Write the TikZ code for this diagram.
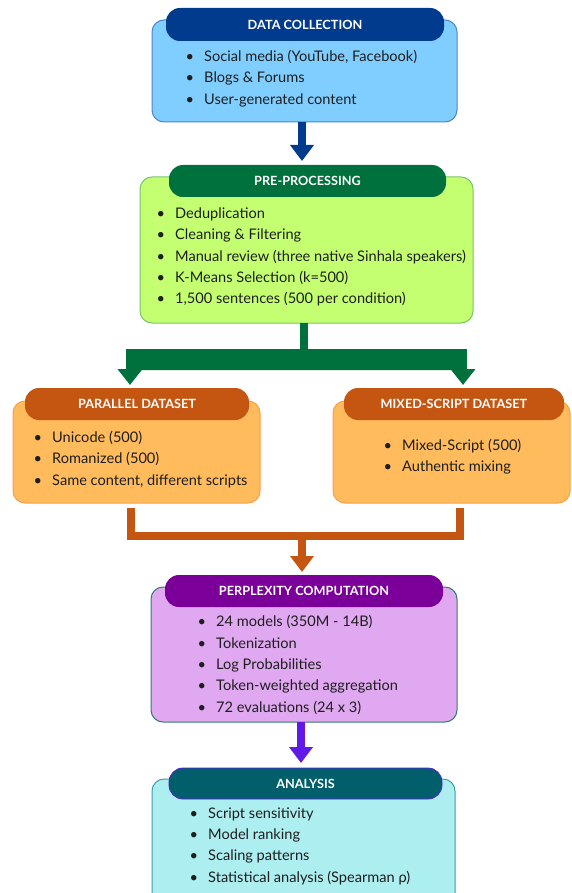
\documentclass[tikz,border=0pt]{standalone}
\usepackage{fontspec}
\setmainfont{Lato}
\usetikzlibrary{arrows.meta}
\definecolor{textc}{HTML}{1E1E1E}
\definecolor{bAfill}{HTML}{80CEFF}
\definecolor{bAdraw}{HTML}{4A86C8}
\definecolor{bAhead}{HTML}{003B8E}
\definecolor{bBfill}{HTML}{C4FF72}
\definecolor{bBdraw}{HTML}{78C46A}
\definecolor{bBhead}{HTML}{00703C}
\definecolor{bCfill}{HTML}{FFBB5C}
\definecolor{bCdraw}{HTML}{F9A046}
\definecolor{bChead}{HTML}{C45612}
\definecolor{bDfill}{HTML}{E0A8F0}
\definecolor{bDdraw}{HTML}{2E7D6B}
\definecolor{bDhead}{HTML}{7A0099}
\definecolor{arrP}{HTML}{6019E8}
\definecolor{bEfill}{HTML}{ADEEF0}
\definecolor{bEdraw}{HTML}{3AA0AA}
\definecolor{bEhead}{HTML}{005F6B}
\newcommand\bitem[1]{\llap{\textbullet\hspace{10pt}}#1}
\tikzset{
  box/.style={draw, line width=1pt, rounded corners=12pt, inner sep=0pt},
  head/.style={rounded corners=14pt, inner sep=0pt, text=white,
    font=\fontsize{12.7}{14}\selectfont\bfseries},
  items/.style={anchor=west, align=left, inner sep=0pt, text=textc,
    font=\fontsize{14.6}{21.3}\selectfont},
  conn/.style={line width=8pt, line join=miter, line cap=butt},
  tip/.style={-{Triangle[width=23pt,length=16pt]}},
  tiptwo/.style={{Triangle[width=24pt,length=16pt]}-{Triangle[width=24pt,length=16pt]}},
}
\begin{document}
\begin{tikzpicture}[x=1pt,y=-1pt]
\useasboundingbox (0,0) rectangle (571,893);
\clip (0,0) rectangle (571,893);
% --- Data collection
\node[box, fill=bAfill, draw=bAdraw, minimum width=305pt, minimum height=102pt] (b1) at (304.5,71) {};
\node[head, fill=bAhead, minimum width=278pt, minimum height=33pt] (h1) at (305,24.5) {DATA COLLECTION};
\node[items] (t1) at (204,78.5) {\bitem{Social media (YouTube, Facebook)}\\ \bitem{Blogs \& Forums}\\ \bitem{User-generated content}};
% --- Pre-processing
\node[box, fill=bBfill, draw=bBdraw, minimum width=333pt, minimum height=146pt] (b2) at (306.5,250) {};
\node[head, fill=bBhead, minimum width=277pt, minimum height=32pt] (h2) at (307.5,181) {PRE-PROCESSING};
\node[items] (t2) at (175,257) {\bitem{Deduplication}\\ \bitem{Cleaning \& Filtering}\\ \bitem{Manual review (three native Sinhala speakers)}\\ \bitem{K-Means Selection (k=500)}\\ \bitem{1,500 sentences (500 per condition)}};
% --- Parallel
\node[box, fill=bCfill, draw=bCdraw, minimum width=247pt, minimum height=102pt] (b3) at (136.5,452) {};
\node[head, fill=bChead, minimum width=224pt, minimum height=32pt] (h3) at (137,404) {PARALLEL DATASET};
\node[items] (t3) at (52,459.5) {\bitem{Unicode (500)}\\ \bitem{Romanized (500)}\\ \bitem{Same content, different scripts}};
% --- Mixed
\node[box, fill=bCfill, draw=bCdraw, minimum width=237pt, minimum height=102pt] (b4) at (451.5,452) {};
\node[head, fill=bChead, minimum width=220pt, minimum height=32pt] (h4) at (454,404) {MIXED-SCRIPT DATASET};
\node[items] (t4) at (402,456.5) {\bitem{Mixed-Script (500)}\\ \bitem{Authentic mixing}};
% --- Perplexity
\node[box, fill=bDfill, draw=bDdraw, minimum width=306pt, minimum height=135pt] (b5) at (304,654.5) {};
\node[head, fill=bDhead, minimum width=278pt, minimum height=32pt] (h5) at (304,591) {PERPLEXITY COMPUTATION};
\node[items] (t5) at (216,665) {\bitem{24 models (350M - 14B)}\\ \bitem{Tokenization}\\ \bitem{Log Probabilities}\\ \bitem{Token-weighted aggregation}\\ \bitem{72 evaluations (24 x 3)}};
% --- Analysis
\node[box, fill=bEfill, draw=bEdraw, minimum width=303pt, minimum height=126pt] (b6) at (303.5,842) {};
\node[head, fill=bEhead, draw=arrP, line width=0.8pt, minimum width=273pt, minimum height=31pt] (h6) at (305.5,783.5) {ANALYSIS};
\node[items] (t6) at (208,846) {\bitem{Script sensitivity}\\ \bitem{Model ranking}\\ \bitem{Scaling patterns}\\ \bitem{Statistical analysis (Spearman ρ)}};
% --- connectors
\coordinate (a1s) at (302,122);
\coordinate (a1e) at (302,161);
\draw[conn, tip, draw=bAhead, fill=bAhead] (a1s) -- (a1e);
\coordinate (g0) at (304,323);
\coordinate (gj) at (304,353);
\coordinate (gl) at (130,385);
\coordinate (gr) at (463,385);
\draw[conn, draw=bBhead] (g0) -- (gj);
\draw[conn, tiptwo, draw=bBhead, fill=bBhead] (gl) |- (gj) -| (gr);
\coordinate (ol) at (130.5,508);
\coordinate (or) at (459.5,508);
\coordinate (oj) at (302,535.5);
\coordinate (oe) at (302,572);
\draw[conn, draw=bChead] (ol) |- (oj) -| (or);
\draw[conn, tip, draw=bChead, fill=bChead] ([yshift=4pt]oj) -- (oe);
\coordinate (ps) at (301,722);
\coordinate (pe) at (301,763);
\draw[conn, tip, draw=arrP, fill=arrP] (ps) -- (pe);
\end{tikzpicture}
\end{document}
